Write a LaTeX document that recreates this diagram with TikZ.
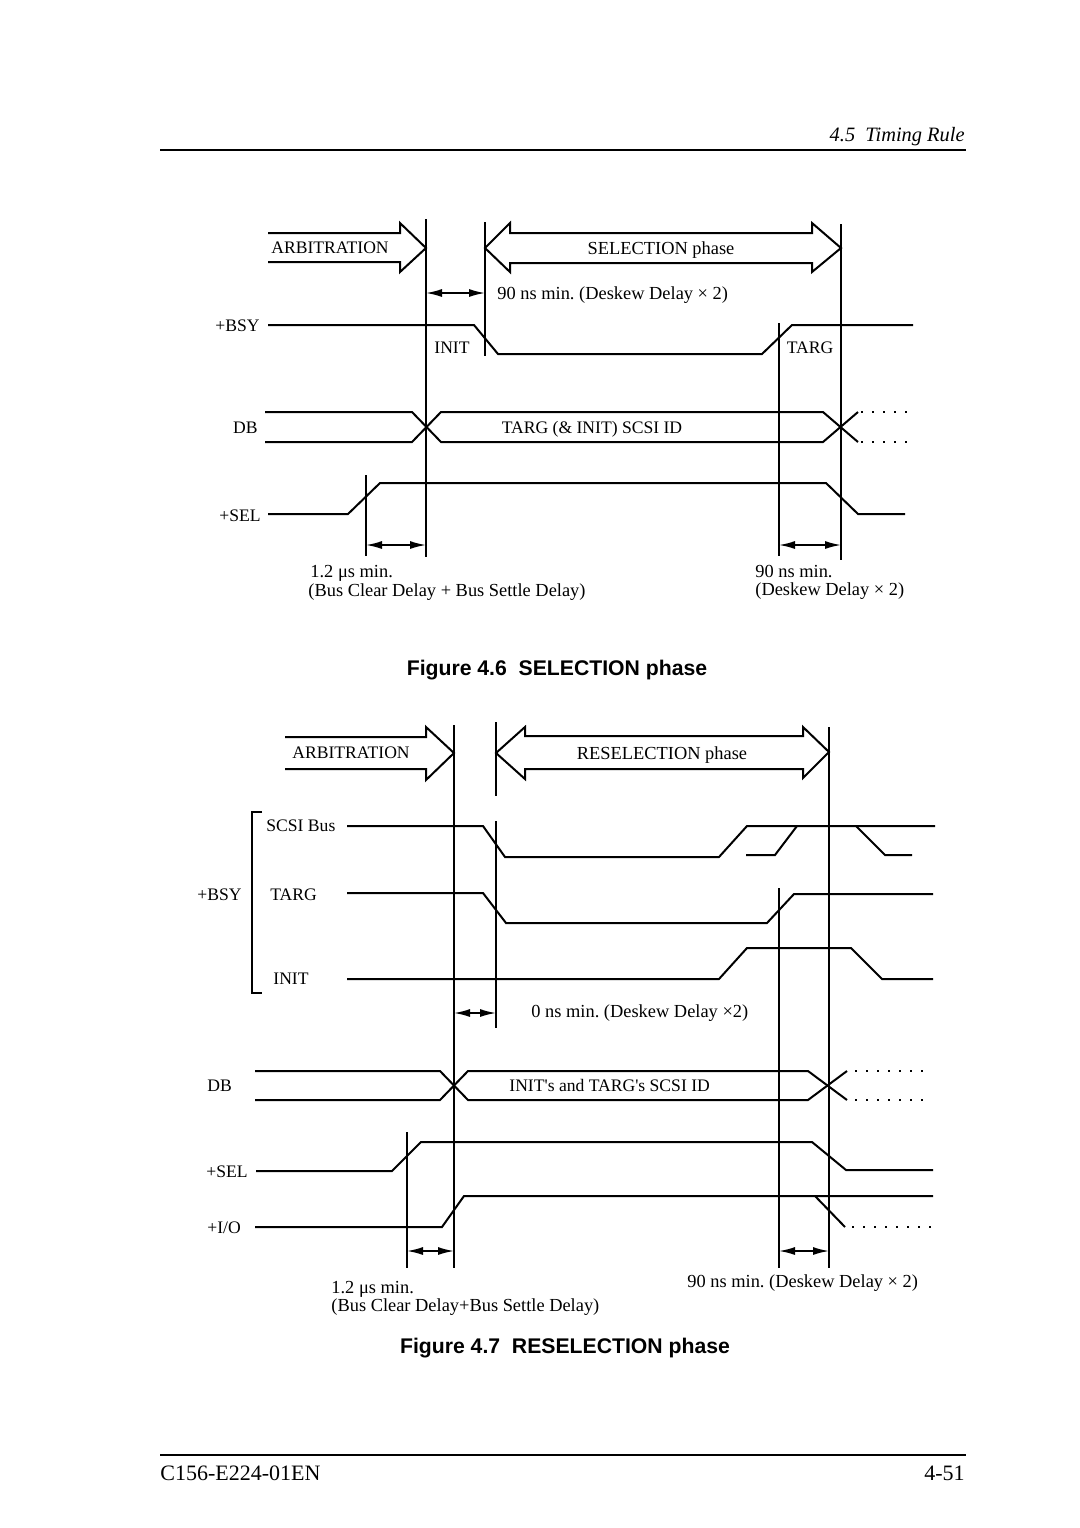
\documentclass[tikz,border=0pt]{standalone}
\usepackage{fontspec}
\setmainfont{Liberation Serif}[Ligatures=TeXOff]
\newfontfamily\figcapfont{Liberation Sans}
\usetikzlibrary{arrows.meta}
\frenchspacing
\newcommand\tdtext{\fontsize{9.2pt}{11pt}\selectfont}
\newcommand\tdcaps{\fontsize{8.8pt}{10pt}\selectfont}
\newcommand\tdcap{\figcapfont\bfseries\fontsize{10.6pt}{12pt}\selectfont}
\newcommand\tdhead{\fontsize{10.2pt}{12pt}\selectfont}
\newcommand\tdfoot{\fontsize{11pt}{13pt}\selectfont}
\begin{document}
\begin{tikzpicture}[x=0.5pt,y=-0.5pt,
  sig/.style={line width=1pt, line join=miter},
  vline/.style={line width=1pt},
  blockarrow/.style={line width=1pt, line join=miter},
  dim/.style={line width=0.8pt, {Latex[length=8pt,width=4pt]}-{Latex[length=8pt,width=4pt]}},
  dots/.style={line width=1pt, dash pattern=on 1pt off 4.5pt},
  txt/.style={inner sep=0pt, font=\tdtext},
  capstxt/.style={inner sep=0pt, font=\tdcaps},
  captxt/.style={inner sep=0pt, font=\tdcap},
  rule/.style={line width=1.2pt}]
\useasboundingbox (0,0) rectangle (1080,1528);

% ---------- header / footer ----------
\draw[rule] (160,150) -- (966,150);
\node[inner sep=0pt, anchor=base east, font=\tdhead\itshape] (head) at (965,141) {4.5\ \ Timing Rule};
\draw[rule] (160,1455) -- (966,1455);
\node[inner sep=0pt, anchor=base west, font=\tdfoot] (docno) at (160,1480) {C156-E224-01EN};
\node[inner sep=0pt, anchor=base east, font=\tdfoot] (pageno) at (965,1480) {4-51};

% =============== Figure 4.6 ===============
% block arrows
\draw[blockarrow] (268,233) -- (400,233) -- (400,223) -- (426,248) -- (400,272) -- (400,262) -- (268,262);
\node[capstxt] (arb1) at (330,248) {ARBITRATION};
\draw[blockarrow] (510,233) -- (812,233) -- (812,223) -- (841,248) -- (812,272) -- (812,263)
  -- (510,263) -- (510,272) -- (485,248) -- (510,223) -- cycle;
\node[txt, anchor=base] (selph) at (661,254) {SELECTION phase};

% vertical timing lines
\draw[vline] (426,219) -- (426,557);
\draw[vline] (485,222) -- (485,356);
\draw[vline] (841,224) -- (841,560);
\draw[vline] (779,323) -- (779,556);
\draw[vline] (366,475) -- (366,556);

% 90 ns deskew
\draw[dim] (426,293) -- (485,293);
\node[txt, anchor=base west] (desk1) at (497,299) {90 ns min. (Deskew Delay × 2)};

% +BSY
\node[capstxt, anchor=base east] (bsy1) at (260,331) {+BSY};
\draw[sig] (268,325) -- (474,325) -- (498,354) -- (762,354) -- (792,325) -- (913,325);
\node[capstxt, anchor=base] (init1) at (452,353) {INIT};
\node[capstxt, anchor=base] (targ1) at (810,353) {TARG};

% DB
\node[capstxt, anchor=base east] (db1) at (258,433) {DB};
\draw[sig] (265,412) -- (412,412) -- (441,442) -- (823,442) -- (858,412);
\draw[sig] (265,442) -- (412,442) -- (441,412) -- (823,412) -- (858,442);
\draw[dots] (861,412) -- (908,412);
\draw[dots] (861,442) -- (908,442);
\node[capstxt, anchor=base] (id1) at (592,433) {TARG (\& INIT) SCSI ID};

% +SEL
\node[capstxt, anchor=base east] (sel1) at (261,521) {+SEL};
\draw[sig] (268,514) -- (348,514) -- (380,483) -- (826,483) -- (858,514) -- (905,514);

% bottom dims
\draw[dim] (366,545) -- (426,545);
\draw[dim] (779,545) -- (841,545);
\node[txt, anchor=base west] (t12a) at (310,577) {1.2 μs min.};
\node[txt, anchor=base west] (t12b) at (308,596) {(Bus Clear Delay + Bus Settle Delay)};
\node[txt, anchor=base west] (t90a) at (755,577) {90 ns min.};
\node[txt, anchor=base west] (t90b) at (755,595) {(Deskew Delay × 2)};

\node[captxt] (cap1) at (557,670) {Figure 4.6\ \ SELECTION phase};

% =============== Figure 4.7 ===============
\draw[blockarrow] (285,737) -- (426,737) -- (426,727) -- (454,753) -- (426,780) -- (426,769) -- (285,769);
\node[capstxt] (arb2) at (351,753) {ARBITRATION};
\draw[blockarrow] (525,736) -- (803,736) -- (803,727) -- (829,752) -- (803,778) -- (803,769)
  -- (525,769) -- (525,779) -- (496,753) -- (525,727) -- cycle;
\node[txt, anchor=base] (reselph) at (662,759) {RESELECTION phase};

% vertical lines
\draw[vline] (454,725) -- (454,1268);
\draw[vline] (496,722) -- (496,796);
\draw[vline] (496,821) -- (496,1028);
\draw[vline] (829,727) -- (829,1268);
\draw[vline] (779,888) -- (779,1268);
\draw[vline] (407,1132) -- (407,1268);

% +BSY group
\draw[sig] (262,812) -- (252,812) -- (252,993) -- (262,993);
\node[capstxt, anchor=base west] (bsy2) at (197,900) {+BSY};
\node[capstxt, anchor=base west] (scsibus) at (266,831) {SCSI Bus};
\node[capstxt, anchor=base west] (targ2) at (270,900) {TARG};
\node[capstxt, anchor=base west] (init2) at (273,984) {INIT};

\draw[sig] (347,826) -- (483,826) -- (505,857) -- (719,857) -- (747,826) -- (935,826);
\draw[sig] (746,855) -- (775,855) -- (797,826);
\draw[sig] (856,826) -- (885,855) -- (912,855);
\draw[sig] (347,893) -- (483,893) -- (506,923) -- (767,923) -- (794,894) -- (933,894);
\draw[sig] (347,979) -- (719,979) -- (747,948) -- (851,948) -- (882,979) -- (933,979);

% 0 ns
\draw[dim] (454,1013) -- (496,1013);
\node[txt, anchor=base west] (desk2) at (531,1017) {0 ns min. (Deskew Delay ×2)};

% DB
\node[capstxt, anchor=base west] (db2) at (207,1091) {DB};
\draw[sig] (255,1071) -- (440,1071) -- (468,1100) -- (808,1100) -- (847,1071);
\draw[sig] (255,1100) -- (440,1100) -- (468,1071) -- (808,1071) -- (847,1100);
\draw[dots] (855,1071) -- (927,1071);
\draw[dots] (855,1100) -- (927,1100);
\node[capstxt, anchor=base west] (id2) at (509,1091) {INIT's and TARG's SCSI ID};

% +SEL
\node[capstxt, anchor=base west] (sel2) at (206,1177) {+SEL};
\draw[sig] (256,1171) -- (392,1171) -- (421,1142) -- (812,1142) -- (846,1170) -- (933,1170);

% +I/O
\node[capstxt, anchor=base west] (io2) at (207,1233) {+I/O};
\draw[sig] (255,1227) -- (442,1227) -- (464,1196) -- (933,1196);
\draw[sig] (815,1196) -- (845,1227);
\draw[dots] (852,1227) -- (937,1227);

% dims
\draw[dim] (407,1251) -- (454,1251);
\draw[dim] (779,1251) -- (829,1251);
\node[txt, anchor=base west] (t12c) at (331,1293) {1.2 μs min.};
\node[txt, anchor=base west] (t12d) at (331,1311) {(Bus Clear Delay+Bus Settle Delay)};
\node[txt, anchor=base west] (t90c) at (687,1287) {90 ns min. (Deskew Delay × 2)};

\node[captxt] (cap2) at (565,1348) {Figure 4.7\ \ RESELECTION phase};
\end{tikzpicture}
\end{document}
